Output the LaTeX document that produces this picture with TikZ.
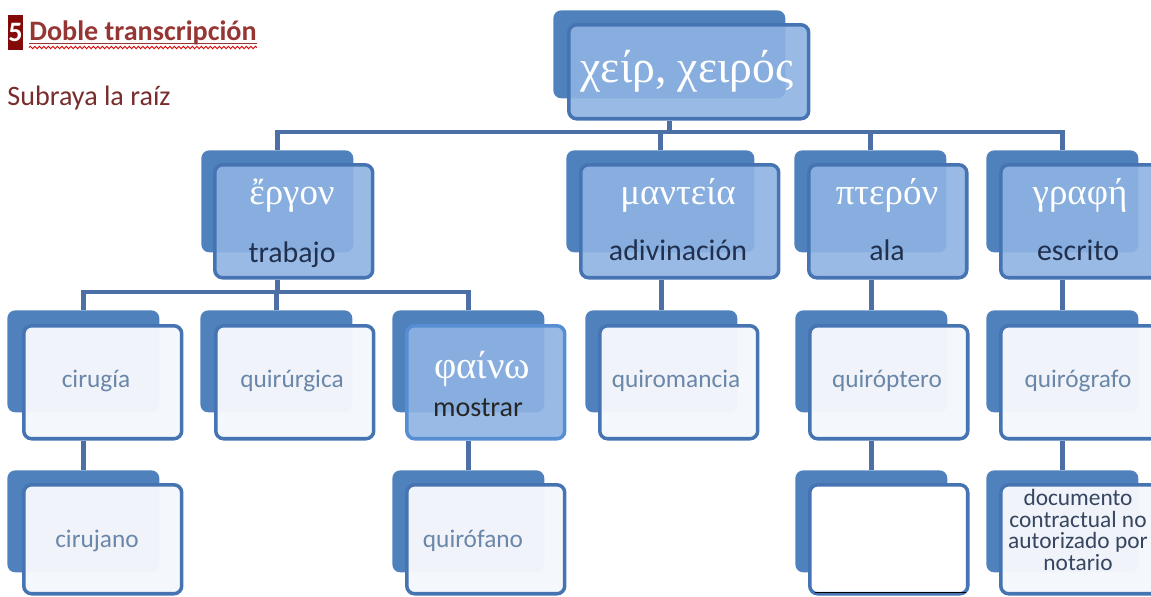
\documentclass[tikz,border=0pt]{standalone}
\usepackage{fontspec}
\setmainfont{Carlito}
\newfontfamily\griego{Liberation Serif}
\usetikzlibrary{positioning}
\usetikzlibrary{decorations.pathmorphing}
\definecolor{fondoazul}{RGB}{79,129,189}
\definecolor{bordeazul}{RGB}{70,116,178}
\definecolor{rellenoazul}{RGB}{142,179,226}
\definecolor{bordeclaro}{RGB}{86,142,212}
\definecolor{rellenopalido}{RGB}{244,247,252}
\definecolor{textopalido}{RGB}{106,134,168}
\definecolor{textomarino}{RGB}{32,48,78}
\definecolor{lineaazul}{RGB}{76,112,165}
\definecolor{rojotitulo}{RGB}{150,54,52}
\definecolor{rojooscuro}{RGB}{132,10,10}
\definecolor{rojotexto}{RGB}{120,44,44}
\pgfdeclarelayer{fondo}
\pgfsetlayers{fondo,main}
\tikzset{
	trasera/.style={fill=fondoazul, rounded corners=4.5pt, anchor=north west, inner sep=0pt, minimum width=3.04cm, minimum height=2.04cm},
	delantera/.style={draw=bordeazul, line width=2pt, fill=rellenoazul, fill opacity=0.9, rounded corners=4.5pt, anchor=north west, inner sep=0pt, minimum width=3.16cm, minimum height=2.26cm},
	palida/.style={delantera, fill=rellenopalido, fill opacity=0.975},
	enlace/.style={draw=lineaazul, line width=2.5pt},
	griegotxt/.style={text=white, font=\griego\fontsize{21}{24}\selectfont, anchor=base, inner sep=0pt},
	sptxt/.style={text=textomarino, font=\fontsize{17}{20}\selectfont, anchor=base, inner sep=0pt},
	palidotxt/.style={text=textopalido, font=\fontsize{14.4}{17}\selectfont, anchor=base, inner sep=0pt},
}
\begin{document}
\begin{tikzpicture}[x=0.02cm, y=-0.02cm]
		\useasboundingbox (0,0) rectangle (1151,596);
		
		% titulo
		\node[fill=rojooscuro, text=white, font=\bfseries\fontsize{16}{19}\selectfont, inner sep=0pt, minimum width=0.3cm, minimum height=0.7cm] (num) at (15.5,32.5) {5};
		\node[anchor=base west, text=rojotitulo, font=\bfseries\fontsize{16}{19}\selectfont, inner sep=0pt] (titulo) at (29,40) {Doble transcripción};
		\draw[rojotitulo, line width=0.9pt] ([yshift=-0.07cm]titulo.base west) -- ([yshift=-0.07cm]titulo.base east);
		\draw[red!85!black, line width=0.5pt, decorate, decoration={snake, amplitude=0.025cm, segment length=0.09cm}] ([yshift=-0.15cm]titulo.base west) -- ([yshift=-0.15cm]titulo.base east);
		\node[anchor=base west, text=rojotexto, font=\fontsize{16}{19}\selectfont, inner sep=0pt] (consigna) at (7,105) {Subraya la raíz};
		
		% raiz
		\node[trasera, minimum width=4.64cm, minimum height=1.76cm] (cheir-b) at (553,10) {};
		\node[delantera, minimum width=4.8cm, minimum height=1.88cm] (cheir) at (567,23) {};
		\node[griegotxt, font=\griego\fontsize{26}{30}\selectfont] (cheir-t) at (687,82) {χείρ, χειρός};
		
		% primer nivel
		\node[trasera] (ergon-b) at (201,150) {};
		\node[delantera] (ergon) at (213,163) {};
		\node[griegotxt] (ergon-gr) at (292,204) {ἔργον};
		\node[sptxt] (ergon-es) at (292,262) {trabajo};
		
		\node[trasera, minimum width=3.76cm] (manteia-b) at (566,150) {};
		\node[delantera, minimum width=3.96cm] (manteia) at (579,163) {};
		\node[griegotxt] (manteia-gr) at (678,204) {μαντεία};
		\node[sptxt] (manteia-es) at (678,260) {adivinación};
		
		\node[trasera] (pteron-b) at (794,150) {};
		\node[delantera] (pteron) at (807,163) {};
		\node[griegotxt] (pteron-gr) at (887,204) {πτερόν};
		\node[sptxt] (pteron-es) at (887,260) {ala};
		
		\node[trasera] (grafe-b) at (986,150) {};
		\node[delantera] (grafe) at (999,163) {};
		\node[griegotxt] (grafe-gr) at (1080,204) {γραφή};
		\node[sptxt] (grafe-es) at (1078,260) {escrito};
		
		% segundo nivel
		\node[trasera] (cirugia-b) at (7,310) {};
		\node[palida] (cirugia) at (22,324) {};
		\node[palidotxt] (cirugia-t) at (96,387) {cirugía};
		
		\node[trasera] (quirurgica-b) at (200,310) {};
		\node[palida] (quirurgica) at (214,324) {};
		\node[palidotxt] (quirurgica-t) at (292,387) {quirúrgica};
		
		\node[trasera] (faino-b) at (392,310) {};
		\node[delantera, draw=bordeclaro] (faino) at (405,324) {};
		\node[griegotxt, font=\griego\fontsize{22}{26}\selectfont] (faino-gr) at (482,378) {φαίνω};
		\node[sptxt, text=black!85, font=\fontsize{16}{19}\selectfont] (faino-es) at (478,416) {mostrar};
		
		\node[trasera] (quiromancia-b) at (585,310) {};
		\node[palida] (quiromancia) at (598,324) {};
		\node[palidotxt] (quiromancia-t) at (676,387) {quiromancia};
		
		\node[trasera] (quiroptero-b) at (795,310) {};
		\node[palida] (quiroptero) at (808,324) {};
		\node[palidotxt] (quiroptero-t) at (887,387) {quiróptero};
		
		\node[trasera] (quirografo-b) at (986,310) {};
		\node[palida] (quirografo) at (999,324) {};
		\node[palidotxt] (quirografo-t) at (1078,387) {quirógrafo};
		
		% tercer nivel
		\node[trasera] (cirujano-b) at (7,470) {};
		\node[palida, minimum height=2.18cm] (cirujano) at (22,483) {};
		\node[palidotxt] (cirujano-t) at (97,547) {cirujano};
		
		\node[trasera] (quirofano-b) at (392,470) {};
		\node[palida, minimum height=2.18cm] (quirofano) at (405,483) {};
		\node[palidotxt] (quirofano-t) at (473,547) {quirófano};
		
		\node[trasera] (vacio-b) at (795,470) {};
		\node[palida, fill=white, fill opacity=1, minimum height=2.18cm] (vacio) at (808,483) {};
		\draw[black, line width=0.8pt] ([xshift=0.14cm, yshift=0.06cm]vacio.south west) -- ([xshift=-0.08cm, yshift=0.06cm]vacio.south east);
		
		\node[trasera] (documento-b) at (986,470) {};
		\node[palida, minimum height=2.18cm] (documento) at (999,483) {};
		\node[palidotxt, anchor=north, align=center, text=textomarino!90, font=\fontsize{13.3}{12.3}\selectfont] (documento-t) at (1078,489) {documento\\contractual no\\autorizado por\\notario};
		
		% conectores
		\begin{pgfonlayer}{fondo}
			\coordinate (barra1) at (0,132);
			\coordinate (barra2) at (0,292);
			\draw[enlace] (cheir.south -| cheir-b.south) -- (cheir-b.south |- barra1);
			\draw[enlace] (ergon-b.north) -- (ergon-b.north |- barra1) -- (grafe-b.north |- barra1) -- (grafe-b.north);
			\draw[enlace] (manteia-b.north) -- (manteia-b.north |- barra1);
			\draw[enlace] (pteron-b.north) -- (pteron-b.north |- barra1);
			\draw[enlace] (ergon.south -| ergon-b.south) -- (ergon-b.south |- barra2);
			\draw[enlace] (cirugia-b.north) -- (cirugia-b.north |- barra2) -- (faino-b.north |- barra2) -- (faino-b.north);
			\draw[enlace] (quirurgica-b.north) -- (quirurgica-b.north |- barra2);
			\draw[enlace] (manteia.south -| quiromancia-b.north) -- (quiromancia-b.north);
			\draw[enlace] (pteron.south -| quiroptero-b.north) -- (quiroptero-b.north);
			\draw[enlace] (grafe.south -| quirografo-b.north) -- (quirografo-b.north);
			\draw[enlace] (cirugia.south -| cirujano-b.north) -- (cirujano-b.north);
			\draw[enlace] (faino.south -| quirofano-b.north) -- (quirofano-b.north);
			\draw[enlace] (quiroptero.south -| vacio-b.north) -- (vacio-b.north);
			\draw[enlace] (quirografo.south -| documento-b.north) -- (documento-b.north);
		\end{pgfonlayer}
	\end{tikzpicture}
\end{document}
